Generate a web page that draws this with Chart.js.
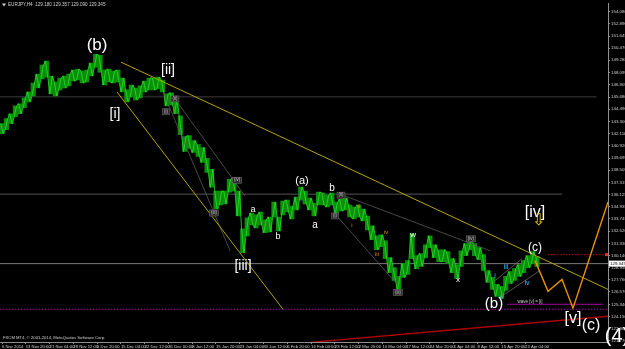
<!DOCTYPE html>
<html><head><meta charset="utf-8">
<script src="https://cdn.jsdelivr.net/npm/chart.js@4.4.1/dist/chart.umd.min.js"></script>
<style>html,body{margin:0;padding:0;background:#000;overflow:hidden}</style>
</head><body>
<canvas id="c" width="625" height="349"></canvas>
<script>
// ---- DATA (EURJPY H4, one entry per trading day: high / low) ----
const BARS_PER_DAY = 6; // H4 bars per day on the time axis
const dayHigh = [143.07,143.56,144.04,144.82,145.02,145.60,146.18,147.06,147.93,148.81,
149.20,147.74,147.16,147.55,147.74,147.93,148.32,148.42,148.23,148.32,
149.00,149.88,149.78,148.32,148.42,148.23,148.32,147.55,146.38,146.86,
146.57,146.77,147.25,147.55,147.55,147.64,147.35,145.99,146.09,145.60,
143.85,141.80,141.90,141.42,141.03,140.73,139.66,138.59,136.45,136.45,
136.45,137.62,137.72,136.45,132.76,133.83,134.31,134.12,134.41,133.63,
133.92,135.38,133.92,135.48,135.58,134.99,135.87,136.84,136.45,135.77,
135.29,136.36,136.26,136.06,136.26,135.38,135.67,135.77,135.09,134.90,
135.09,134.70,134.02,133.05,132.07,132.17,131.59,129.93,128.96,128.09,
129.35,129.64,132.27,130.13,130.32,131.20,132.07,131.20,130.71,130.71,
130.52,129.84,129.25,130.61,131.30,131.78,131.30,130.91,130.23,128.67,
127.99,127.31,127.11,128.09,128.57,128.86,129.25,129.64,130.13,130.52,
130.03];
const dayLow = [142.10,142.49,143.07,143.75,144.04,144.63,145.21,145.79,146.57,147.45,
147.64,145.99,145.79,146.38,146.57,146.77,147.25,147.35,147.06,147.16,
147.74,148.62,148.13,146.86,147.16,147.06,147.16,146.18,145.21,145.70,
145.40,145.60,146.18,146.38,146.38,146.48,146.18,144.82,144.92,144.04,
142.00,140.34,140.64,140.25,139.86,139.27,138.30,136.84,134.70,135.09,
135.19,136.36,136.45,134.02,130.42,132.07,133.14,132.85,133.14,132.37,
132.46,133.92,132.56,134.12,134.41,133.73,134.60,135.58,135.19,134.60,
134.02,135.09,135.09,134.90,135.09,134.12,134.51,134.60,133.92,133.73,
133.92,133.53,132.66,131.69,130.71,131.00,129.84,128.47,127.70,126.72,
127.99,128.28,129.84,128.86,129.06,129.93,130.91,129.93,129.54,129.54,
129.35,128.47,127.89,129.06,130.13,130.71,130.13,129.74,128.67,127.50,
126.82,126.14,125.94,126.72,127.40,127.70,128.09,128.47,128.96,129.35,
129.06];

const timeLabels = ["6 Nov 2014","13 Nov 20:00","21 Nov 04:00","28 Nov 12:00","5 Dec 20:00","15 Dec 04:00","22 Dec 12:00","31 Dec 00:00","8 Jan 12:00","15 Jan 20:00","23 Jan 04:00","30 Jan 12:00","6 Feb 20:00","16 Feb 04:00","23 Feb 12:00","2 Mar 20:00","10 Mar 04:00","17 Mar 12:00","24 Mar 20:00","1 Apr 04:00","8 Apr 12:00","15 Apr 20:00","23 Apr 04:00"];
const TIME_LABEL_STEP = 32; // H4 bars between time labels
const priceTicks = [154.080,152.890,151.645,150.470,149.288,148.095,146.905,145.680,144.490,143.300,142.110,140.920,139.695,138.505,137.315,136.125,134.935,133.745,132.520,131.330,130.140,128.950,127.760,126.570,125.340,124.150,122.960,121.770];
const priceMin = 121.66, priceMax = 154.84;
const timeMin = -2.7, timeMax = 815.6;
const bidPrice = 129.345;
const titleText = "EURJPY,H4  129.180 129.357 129.090 129.345";
const footerText = "FXCM MT4, \u00A9 2001-2014, MetaQuotes Software Corp.";

// horizontal levels: [price, fromBar, toBar]
const levelGray1 = [145.70, -3, 800];
const levelGray2 = [136.16, -3, 753.7];
const levelRedDot = [130.23, 735, 816];
const levelMagentaDot = [124.87, -3, 816];
const levelMagenta = [125.36, 679.7, 808.9];

// trend / channel lines: [[bar, price],[bar, price]]
const upperTrend = [[160.2,149.10],[815.6,126.82]];
const lowerTrend = [[154.8,146.18],[378.2,124.87]];
const redTrend = [[414.5,121.62],[815.6,124.19]];
const chanA = [[216.7,146.18],[306.9,130.61]];
const chanB = [[232.8,145.50],[327.1,135.97]];
const chanC = [[454.9,136.16],[656.8,130.61]];
const chanD = [[448.2,134.21],[533.0,127.21]];
const chanE = [[660.8,127.50],[699.9,129.84]];
const chanF = [[670.3,126.04],[724.1,128.67]];
const projection = [[717.4,129.64],[734.9,126.63],[753.7,127.79],[768.5,124.97],[815.6,135.38]];

// wave labels: [text, bar, price, size, kind]
const waveLabels = [
 ["(b)",127.9,150.76,17,"w"],
 ["[ii]",223.4,148.32,14,"w"],
 ["[i]",152.1,144.04,14,"w"],
 ["[iii]",324.4,129.06,14,"w"],
 ["(a)",403.8,137.43,11,"w"],
 ["b",444.1,136.74,10,"w"],
 ["a",421.3,133.14,10,"w"],
 ["a",337.8,134.70,9,"w"],
 ["b",371.5,131.98,9,"w"],
 ["[iv]",717.4,134.31,16,"w"],
 ["(c)",717.4,130.91,12,"w"],
 ["(b)",662.2,125.36,15,"w"],
 ["[v]",768.5,124.00,16,"w"],
 ["(c)",792.7,123.22,16,"w"],
 ["w",553.2,132.17,8,"w"],
 ["x",613.7,127.79,8,"w"],
 ["\u21E9",721.4,133.58,16,"y"],
 ["i",471.1,133.14,6,"o"],
 ["ii",480.5,134.99,6,"o"],
 ["iii",504.7,130.23,6,"o"],
 ["iv",516.8,132.37,6,"o"],
 ["i",663.5,128.09,7,"c"],
 ["ii",671.6,126.04,6,"c"],
 ["iii",678.3,128.96,7,"c"],
 ["iv",706.6,127.40,7,"c"],
 ["(i)",220.7,144.24,4.5,"g"],
 ["(ii)",232.8,145.50,4.5,"g"],
 ["(iii)",285.3,134.31,4.5,"g"],
 ["(iv)",316.3,137.52,4.5,"g"],
 ["(ii)",456.3,136.06,4.5,"g"],
 ["(i)",448.2,134.02,4.5,"g"],
 ["(iii)",533.0,126.53,4.5,"g"],
 ["(iv)",631.2,131.78,4.5,"g"],
 ["wave [v] = [i]",710.6,125.65,4.5,"t"]
];
const cornerLabel = ["(4)",827.7,122.20,20];

// ---- build datasets ----
const bars = dayHigh.map((h,i)=>({x:i*BARS_PER_DAY, y:[dayLow[i], h]}));
// intraday path: each day's bar touches its high and its low
const path = [];
dayHigh.forEach((h,i)=>{
  const first = i%2===0 ? h : dayLow[i], second = i%2===0 ? dayLow[i] : h;
  path.push({x:i*BARS_PER_DAY-1.6,y:first});
  path.push({x:i*BARS_PER_DAY+1.6,y:second});
});
const seg = p => p.map(([x,y])=>({x,y}));
const lvl = l => [{x:l[1],y:l[0]},{x:l[2],y:l[0]}];
function line(data,color,width,order,dash){
  return {type:'line',data,borderColor:color,borderWidth:width,pointRadius:0,borderDash:dash||[],order,tension:0,fill:false};
}
const FONT = '"Liberation Sans", Arial, sans-serif';

function drawLabel(c,t,x,y,sz,k){
  c.font=`${sz}px ${FONT}`;
  if(k==='g'){
    const w=c.measureText(t).width+3;
    c.fillStyle='#2a2a2a'; c.fillRect(x-w/2,y-3,w,6);
    c.strokeStyle='#6a6a6a'; c.lineWidth=0.6; c.strokeRect(x-w/2,y-3,w,6);
    c.fillStyle='#c8c8c8';
  } else if(k==='o') c.fillStyle='#e08a10';
  else if(k==='c') c.fillStyle='#3cc0ff';
  else if(k==='y') c.fillStyle='#f0c800';
  else if(k==='t') c.fillStyle='#c8c8c8';
  else c.fillStyle='#ffffff';
  c.fillText(t,x,y);
}

const overlay = {
  id:'overlay',
  beforeDraw(chart){
    const c=chart.ctx; c.save(); c.fillStyle='#000'; c.fillRect(0,0,chart.width,chart.height); c.restore();
  },
  afterDatasetsDraw(chart){
    const c=chart.ctx, xs=chart.scales.x, ys=chart.scales.y;
    c.save();
    c.textAlign='center'; c.textBaseline='middle';
    for(const [t,bx,py,sz,k] of waveLabels){
      drawLabel(c,t,xs.getPixelForValue(bx),ys.getPixelForValue(py),sz,k);
    }
    c.restore();
  },
  afterDraw(chart){
    const c=chart.ctx, ys=chart.scales.y, xs=chart.scales.x, a=chart.chartArea;
    c.save();
    c.textBaseline='middle'; c.textAlign='left';
    c.font=`4.6px ${FONT}`; c.fillStyle='#d0d0d0';
    c.beginPath(); c.moveTo(2,3.5); c.lineTo(6,3.5); c.lineTo(4,6.5); c.closePath(); c.fill();
    c.fillText(titleText,8,5);
    c.font=`4.2px ${FONT}`;
    c.fillText(footerText,3,338);
    const y=ys.getPixelForValue(bidPrice);
    c.fillStyle='#ffffff'; c.fillRect(a.right+1,y-3,16,6);
    c.fillStyle='#000'; c.font=`4.4px ${FONT}`; c.fillText(bidPrice.toFixed(3),a.right+2,y);
    const yr=ys.getPixelForValue(levelRedDot[0]);
    c.fillStyle='#ff2020'; c.fillRect(a.right-3,yr-1.5,3,3);
    c.textAlign='center';
    drawLabel(c,cornerLabel[0],xs.getPixelForValue(cornerLabel[1]),ys.getPixelForValue(cornerLabel[2]),cornerLabel[3],'w');
    c.restore();
  }
};

new Chart(document.getElementById('c'),{
  type:'bar',
  data:{datasets:[
    {type:'bar',data:bars,backgroundColor:'#0c8e0c',borderWidth:0,barPercentage:1,categoryPercentage:1,order:4},
    line(path,'#22e622',0.8,3),
    line(lvl(levelGray1),'#3c3c3c',1,6),
    line(lvl(levelGray2),'#555555',1,6),
    line(lvl([bidPrice,-3,816]),'#7c7c7c',1,6),
    line(lvl(levelMagentaDot),'#b000b0',1,5,[1.5,1.5]),
    line(lvl(levelMagenta),'#a000a0',1.2,2),
    line(lvl(levelRedDot),'#c00000',1,2,[1.5,1.5]),
    line(seg(redTrend),'#b00000',1.4,2),
    line(seg(upperTrend),'#b4a200',1,1),
    line(seg(lowerTrend),'#b4a200',1,1),
    line(seg(chanA),'#5a5a5a',0.8,2),
    line(seg(chanB),'#5a5a5a',0.8,2),
    line(seg(chanC),'#5a5a5a',0.8,2),
    line(seg(chanD),'#5a5a5a',0.8,2),
    line(seg(chanE),'#6a6a6a',0.8,2),
    line(seg(chanF),'#6a6a6a',0.8,2),
    line(seg(projection),'#e89000',1.4,0)
  ]},
  options:{
    responsive:false, animation:false, devicePixelRatio:1,
    layout:{padding:{top:1,left:0,right:0,bottom:0}},
    plugins:{legend:{display:false},tooltip:{enabled:false}},
    scales:{
      x:{type:'linear',min:timeMin,max:timeMax,offset:false,
        grid:{display:true,drawOnChartArea:false,offset:false,tickLength:2,color:'#909090'},
        border:{display:true,color:'#909090'},
        afterBuildTicks:s=>{s.ticks=timeLabels.map((t,i)=>({value:i*TIME_LABEL_STEP}));},
        afterFit:s=>{s.height=7;},
        ticks:{autoSkip:false,maxRotation:0,minRotation:0,align:'start',padding:0,color:'#d0d0d0',font:{size:4.2,family:'Liberation Sans'},
          callback:(v,i)=>timeLabels[i]}
      },
      y:{type:'linear',position:'right',min:priceMin,max:priceMax,
        grid:{display:true,drawOnChartArea:false,tickLength:2,color:'#909090'},
        border:{display:true,color:'#909090'},
        afterBuildTicks:s=>{s.ticks=priceTicks.map(v=>({value:v}));},
        afterFit:s=>{s.width=17;},
        ticks:{autoSkip:false,padding:1,color:'#d0d0d0',font:{size:4.4,family:'Liberation Sans'},
          callback:(v,i)=>priceTicks[i].toFixed(3)}
      }
    }
  },
  plugins:[overlay]
});
</script>
</body></html>
